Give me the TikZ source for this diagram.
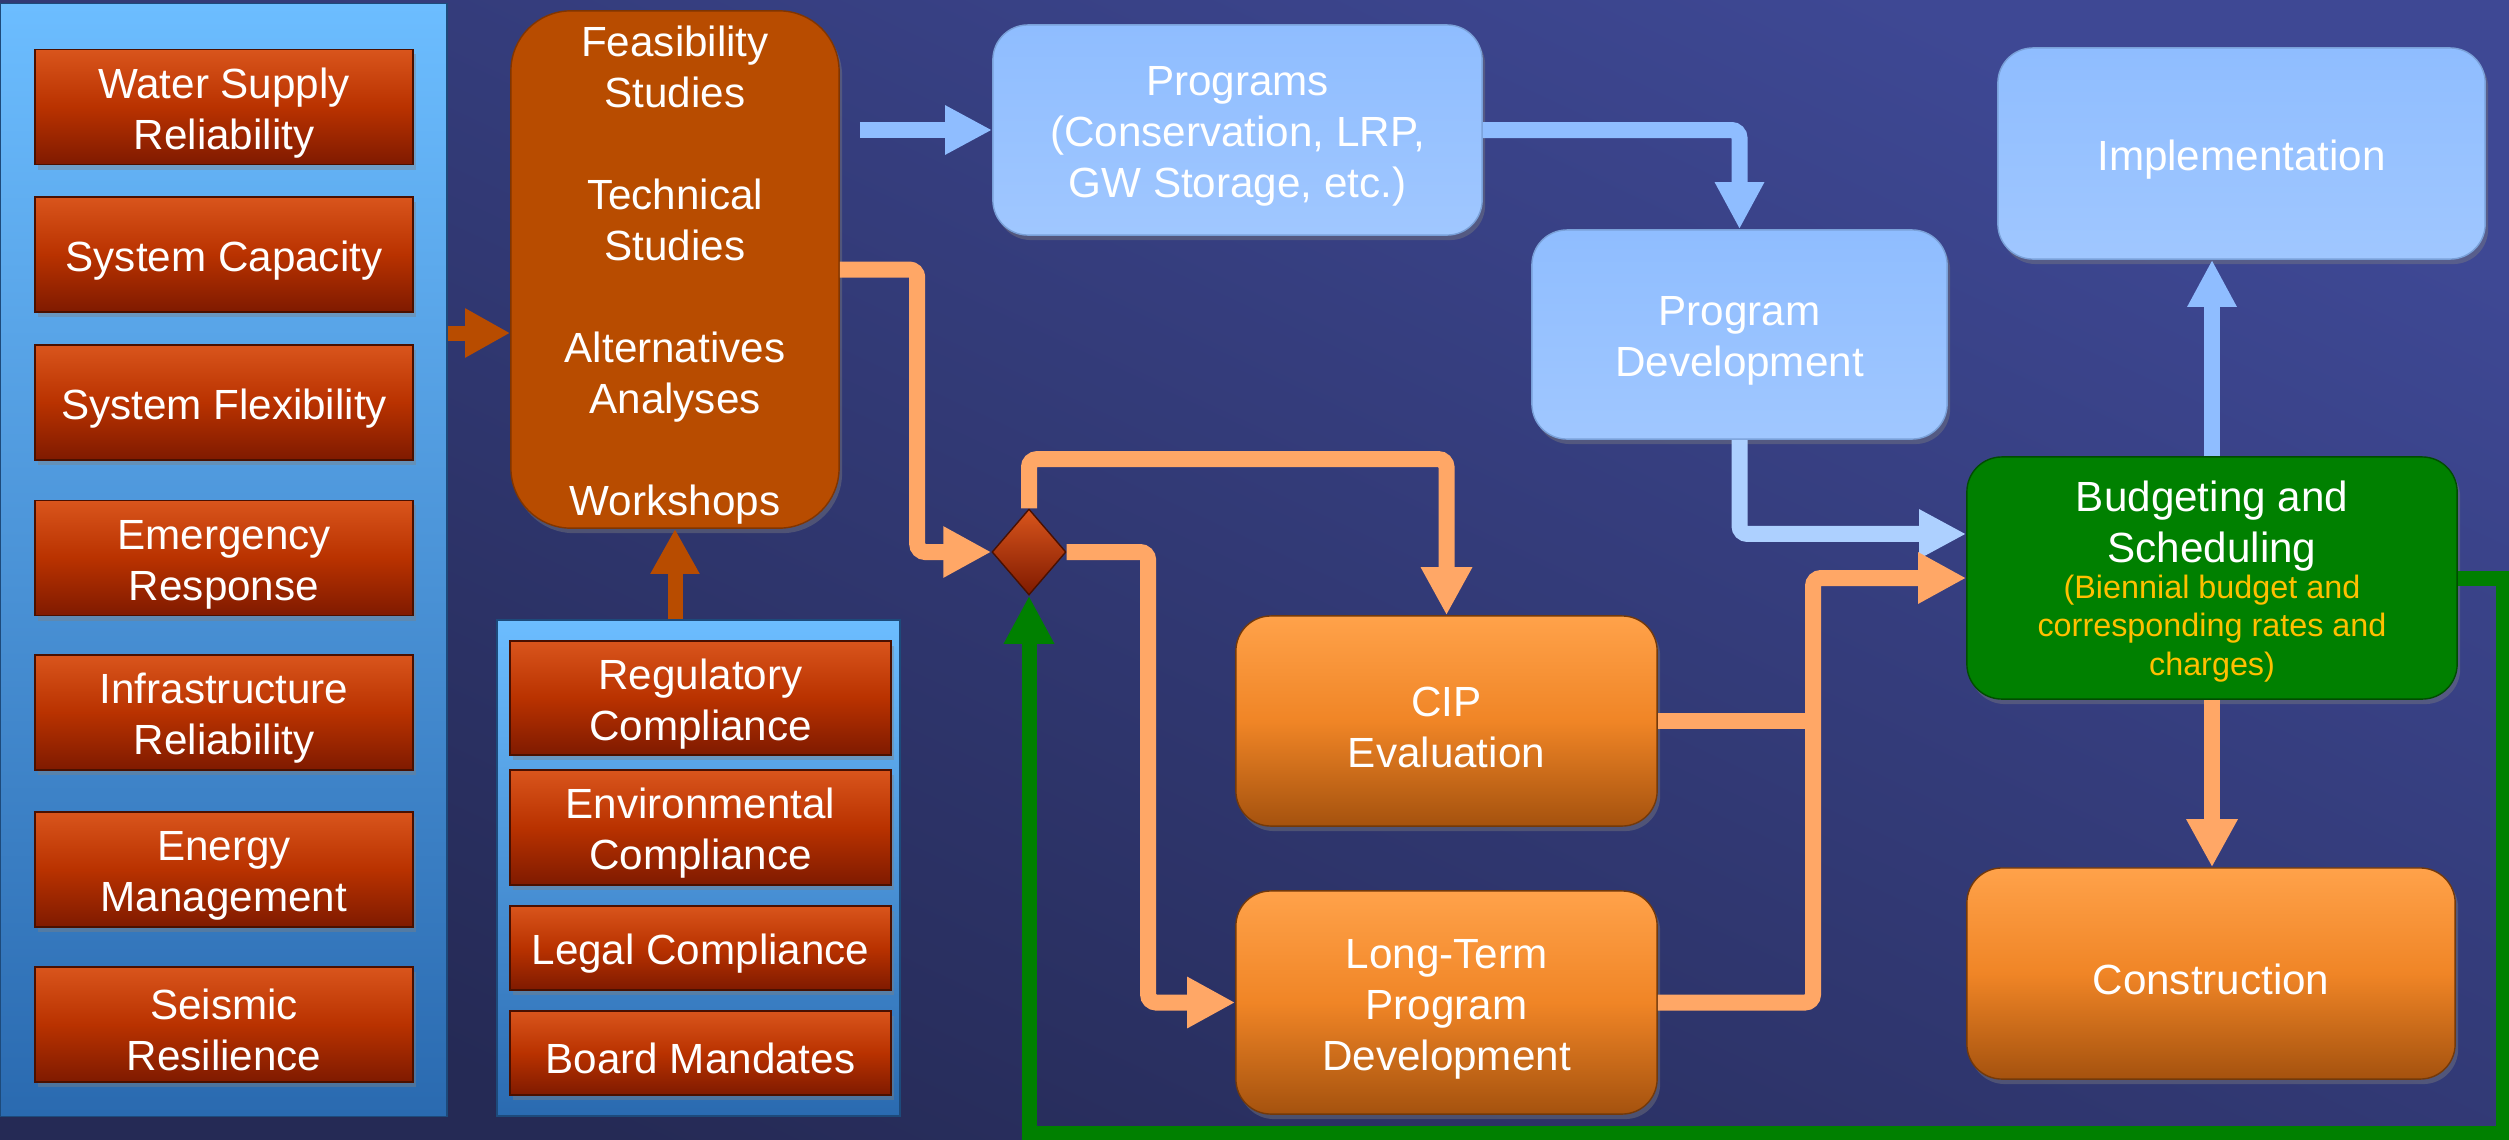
\documentclass[tikz,border=0pt]{standalone}
\usepackage{fontspec}
\setmainfont{Liberation Sans}
\usetikzlibrary{arrows.meta,shapes.geometric,shadows}

\definecolor{bgtop}{HTML}{3E4894}
\definecolor{bgbottom}{HTML}{252A55}
\definecolor{paneltop}{HTML}{6CBDFF}
\definecolor{panelbottom}{HTML}{2A6AB0}
\definecolor{redtop}{HTML}{D9551C}
\definecolor{redmid}{HTML}{B93200}
\definecolor{redbottom}{HTML}{7F1A00}
\definecolor{redline}{HTML}{4A1000}
\definecolor{rust}{HTML}{B84C00}
\definecolor{skyblue}{HTML}{8FBDFF}
\definecolor{paleblue}{HTML}{ADD0FF}
\definecolor{ortop}{HTML}{FFA24A}
\definecolor{ormid}{HTML}{F08526}
\definecolor{orbottom}{HTML}{A5520E}
\definecolor{lineorange}{HTML}{FFA766}
\definecolor{budgetgreen}{HTML}{008000}
\definecolor{gold}{HTML}{FFC000}

\newcommand{\boxstrut}{\rule{0pt}{12pt}}

\begin{document}
\begin{tikzpicture}[x=0.01cm,y=-0.01cm,
    boxtext/.style={text=white,align=center,font=\fontsize{12}{14.5}\selectfont},
    panel/.style={draw=panelbottom!70!black,top color=paneltop,bottom color=panelbottom,inner sep=0pt},
    redbox/.style={boxtext,draw=redline,top color=redtop,bottom color=redbottom,middle color=redmid,minimum width=3.78cm,minimum height=1.15cm,inner sep=0pt,drop shadow={opacity=0.4,shadow xshift=0.03cm,shadow yshift=-0.05cm}},
    studybox/.style={boxtext,draw=rust!70!black,fill=rust,rounded corners=0.6cm,minimum width=3.28cm,minimum height=5.17cm,inner sep=0pt,drop shadow={opacity=0.4,shadow xshift=0.03cm,shadow yshift=-0.05cm}},
    bluebox/.style={boxtext,draw=skyblue!85!black,top color=skyblue,bottom color=skyblue!85!white,rounded corners=0.35cm,inner sep=0pt,drop shadow={opacity=0.4,shadow xshift=0.03cm,shadow yshift=-0.05cm}},
    orangebox/.style={boxtext,draw=orbottom!70!black,top color=ortop,bottom color=orbottom,middle color=ormid,rounded corners=0.35cm,inner sep=0pt,drop shadow={opacity=0.4,shadow xshift=0.03cm,shadow yshift=-0.05cm}},
    greenbox/.style={boxtext,draw=budgetgreen!60!black,fill=budgetgreen,rounded corners=0.35cm,inner sep=0pt,drop shadow={opacity=0.4,shadow xshift=0.03cm,shadow yshift=-0.05cm}},
    decision/.style={diamond,draw=redline,top color=redtop,bottom color=redbottom,minimum width=0.74cm,minimum height=0.86cm,aspect=0.86,inner sep=0pt},
    brownarrow/.style={draw=rust,line width=0.15cm,-{Triangle[width=0.46cm,length=0.45cm]}},
    bluearrow/.style={draw=skyblue,line width=0.16cm,rounded corners=0.08cm,-{Triangle[width=0.46cm,length=0.47cm]}},
    palearrow/.style={draw=paleblue,line width=0.16cm,rounded corners=0.08cm,-{Triangle[width=0.46cm,length=0.47cm]}},
    orangeline/.style={draw=lineorange,line width=0.16cm,rounded corners=0.08cm},
    orangearrow/.style={orangeline,-{Triangle[width=0.48cm,length=0.48cm]}},
    greenarrow/.style={draw=budgetgreen,line width=0.15cm,-{Triangle[width=0.47cm,length=0.48cm]}}]
% Background
    \shade[top color=bgtop,bottom color=bgbottom,shading angle=-25] (0,0) rectangle (2509,1139);
    \useasboundingbox (0,0) rectangle (2509,1139);
% Drivers
    \node[panel,minimum width=4.47cm,minimum height=11.12cm] (leftpanel) at (223.5,560) {};
    \node[redbox] (supply) at (224,107) {\boxstrut Water Supply\\Reliability};
    \node[redbox] (capacity) at (224,254.5) {\boxstrut System Capacity};
    \node[redbox] (flexibility) at (224,402.5) {\boxstrut System Flexibility};
    \node[redbox] (emergency) at (224,558) {\boxstrut Emergency\\Response};
    \node[redbox] (infrastructure) at (224,712.5) {\boxstrut Infrastructure\\Reliability};
    \node[redbox] (energy) at (224,869.5) {\boxstrut Energy\\Management};
    \node[redbox] (seismic) at (224,1024.5) {\boxstrut Seismic\\Resilience};
% Compliance
    \node[panel,minimum width=4.03cm,minimum height=4.96cm] (compliance) at (698.5,868) {};
    \node[redbox,minimum width=3.81cm,minimum height=1.14cm] (regulatory) at (700.5,698) {\boxstrut Regulatory\\Compliance};
    \node[redbox,minimum width=3.81cm] (environmental) at (700.5,827.5) {\boxstrut Environmental\\Compliance};
    \node[redbox,minimum width=3.81cm,minimum height=0.84cm] (legal) at (700.5,948) {\boxstrut Legal Compliance};
    \node[redbox,minimum width=3.81cm,minimum height=0.84cm] (board) at (700.5,1053) {\boxstrut Board Mandates};
% Studies
    \node[studybox] (studies) at (675,269.5) {\boxstrut Feasibility\\Studies\\[14.5pt]Technical\\Studies\\[14.5pt]Alternatives\\Analyses\\[14.5pt]Workshops};
% Programs
    \node[bluebox,minimum width=4.89cm,minimum height=2.10cm] (programs) at (1237.5,130) {\boxstrut Programs\\(Conservation, LRP,\\GW Storage, etc.)};
    \node[bluebox,minimum width=4.15cm,minimum height=2.09cm] (progdev) at (1739.5,334.5) {\boxstrut Program\\Development};
    \node[bluebox,minimum width=4.87cm,minimum height=2.11cm] (implementation) at (2241.5,153.5) {\boxstrut Implementation};
% CIP
    \node[decision] (decision) at (1029,552) {};
    \node[orangebox,minimum width=4.21cm,minimum height=2.10cm] (cip) at (1446.5,721) {\boxstrut CIP\\Evaluation};
    \node[orangebox,minimum width=4.21cm,minimum height=2.23cm] (longterm) at (1446.5,1002.5) {\boxstrut Long-Term\\Program\\Development};
    \node[greenbox,minimum width=4.90cm,minimum height=2.42cm] (budget) at (2212,578) {\boxstrut Budgeting and\\Scheduling\\[-1pt]{\fontsize{9.2}{11}\selectfont\color{gold}\begin{tabular}{@{}c@{}}(Biennial budget and\\corresponding rates and\\charges)\end{tabular}}};
    \node[orangebox,minimum width=4.88cm,minimum height=2.11cm] (construction) at (2211,973.5) {\boxstrut Construction};
% Arrows
    \draw[brownarrow] (leftpanel.east |- 0,333) -- (studies.west |- 0,333);
    \draw[brownarrow] (studies.south |- compliance.north) -- (studies.south);
    \draw[bluearrow,shorten <=0.2cm] (studies.east |- programs.west) -- (programs.west);
    \draw[bluearrow] (programs.east) -| (progdev.north);
    \draw[palearrow] (progdev.south) |- ([yshift=0.44cm]budget.west);
    \draw[bluearrow] (budget.north) -- (budget.north |- implementation.south);
    \draw[orangearrow] (budget.south) -- (budget.south |- construction.north);
    \draw[orangearrow] (studies.east) -| ([xshift=-0.74cm]decision.west) -- (decision.west);
    \draw[orangearrow] (decision.north) |- ([yshift=1.56cm]cip.north) -- (cip.north);
    \draw[orangearrow] (decision.east) -| ([xshift=-0.87cm]longterm.west) -- (longterm.west);
    \coordinate (merge) at (1813,721);
    \draw[orangeline] (cip.east) -- (merge);
    \draw[orangearrow] (longterm.east) -| (merge) |- (budget.west);
    \coordinate (loopcorner) at (2503,1133);
    \draw[greenarrow] (budget.east) -| (loopcorner) -| (decision.south);
\end{tikzpicture}
\end{document}
